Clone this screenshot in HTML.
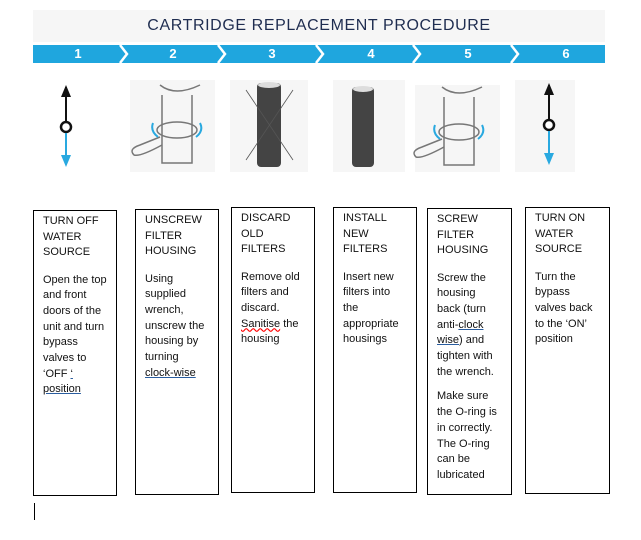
<!DOCTYPE html>
<html><head><style>
body{margin:0;width:641px;height:540px;background:#fff;position:relative;overflow:hidden;font-family:"Liberation Sans",sans-serif;}
.title{position:absolute;left:33px;top:10px;width:572px;height:32px;background:#f6f6f6;text-align:center;font-size:16px;color:#1f2d50;line-height:32px;letter-spacing:0.6px;}
.band{position:absolute;left:33px;top:45px;width:572px;height:18px;background:#1fa6de;}
.num{position:absolute;top:45px;width:20px;text-align:center;color:#fff;font-weight:bold;font-size:13px;line-height:18px;}
.box{position:absolute;border:1px solid #000;box-sizing:border-box;padding:3px 0 0 9px;font-size:11px;color:#111;}
.box .h{line-height:15.5px;margin-bottom:12px;}
.box .b{line-height:15.7px;margin-bottom:9px;}
.u{text-decoration:underline;text-decoration-color:#2a5d9f;}
</style></head><body>
<div class="title">CARTRIDGE REPLACEMENT PROCEDURE</div>
<div class="band"></div>
<svg style="position:absolute;left:0;top:45px" width="641" height="18">
<g fill="none" stroke="#fff" stroke-width="2.5">
<polyline points="120,0 127,9 120,18"/><polyline points="218,0 225,9 218,18"/><polyline points="316,0 323,9 316,18"/><polyline points="413,0 420,9 413,18"/><polyline points="511,0 518,9 511,18"/>
</g></svg>
<div class="num" style="left:68px">1</div>
<div class="num" style="left:163px">2</div>
<div class="num" style="left:262px">3</div>
<div class="num" style="left:361px">4</div>
<div class="num" style="left:458px">5</div>
<div class="num" style="left:556px">6</div>
<svg style="position:absolute;left:0;top:75px" width="641" height="100">
<g fill="#f6f6f6"><rect x="130" y="5" width="85" height="92"/><rect x="230" y="5" width="78" height="92"/><rect x="333" y="5" width="72" height="92"/><rect x="415" y="10" width="85" height="87"/><rect x="515" y="5" width="60" height="92"/></g>
<g id="a">
<line x1="66" y1="12" x2="66" y2="46" stroke="#111" stroke-width="2"/><polygon points="61,22 66,10 71,22" fill="#111"/>
<circle cx="66" cy="52" r="5" fill="#fff" stroke="#111" stroke-width="2.5"/>
<line x1="66" y1="58" x2="66" y2="86" stroke="#29a9e0" stroke-width="2"/><polygon points="61,80 66,92 71,80" fill="#29a9e0"/>
</g>
<use href="#a" transform="translate(483,-2)"/>
<g id="h" fill="none" stroke="#777" stroke-width="1.5">
<path d="M160 10 Q175 22 200 10 M162 20 L162 88 L192 88 L192 20"/>
<ellipse cx="177" cy="55" rx="20" ry="8"/>
<path d="M160 62 L140 70 Q128 74 134 80 Q140 82 162 70"/>
<path d="M153 48 Q150 56 158 62 M200 48 Q204 56 196 62" stroke="#29a9e0" stroke-width="2"/>
</g>
<use href="#h" transform="translate(282,2)"/>
<g fill="#444"><rect x="257" y="8" width="24" height="84" rx="4"/><rect x="352" y="12" width="22" height="80" rx="4"/></g>
<g fill="#ddd"><ellipse cx="269" cy="10" rx="11" ry="3"/><ellipse cx="363" cy="14" rx="10" ry="3"/></g>
<g stroke="#555" stroke-width="0.8"><line x1="246" y1="15" x2="293" y2="85"/><line x1="293" y1="15" x2="246" y2="85"/></g>
</svg>
<div class="box" style="left:33px;top:210px;width:84px;height:286px"><div class="h">TURN OFF<br>WATER<br>SOURCE</div><div class="b">Open the top<br>and front<br>doors of the<br>unit and turn<br>bypass<br>valves to<br>‘OFF <span class="u">‘</span><br><span class="u">position</span></div></div>
<div class="box" style="left:135px;top:209px;width:84px;height:286px"><div class="h">UNSCREW<br>FILTER<br>HOUSING</div><div class="b">Using<br>supplied<br>wrench,<br>unscrew the<br>housing by<br>turning<br><span class="u">clock-wise</span></div></div>
<div class="box" style="left:231px;top:207px;width:84px;height:286px"><div class="h">DISCARD<br>OLD<br>FILTERS</div><div class="b">Remove old<br>filters and<br>discard.<br><span style="text-decoration:underline wavy red">Sanitise</span> the<br>housing</div></div>
<div class="box" style="left:333px;top:207px;width:84px;height:286px"><div class="h">INSTALL<br>NEW<br>FILTERS</div><div class="b">Insert new<br>filters into<br>the<br>appropriate<br>housings</div></div>
<div class="box" style="left:427px;top:208px;width:85px;height:287px"><div class="h">SCREW<br>FILTER<br>HOUSING</div><div class="b">Screw the<br>housing<br>back (turn<br>anti-<span class="u">clock </span><br><span class="u">wise</span>) and<br>tighten with<br>the wrench.</div><div class="b">Make sure<br>the O-ring is<br>in correctly.<br>The O-ring<br>can be<br>lubricated</div></div>
<div class="box" style="left:525px;top:207px;width:85px;height:287px"><div class="h">TURN ON<br>WATER<br>SOURCE</div><div class="b">Turn the<br>bypass<br>valves back<br>to the ‘ON’<br>position</div></div>
<div style="position:absolute;left:34px;top:503px;width:1px;height:17px;background:#000"></div>
</body></html>
